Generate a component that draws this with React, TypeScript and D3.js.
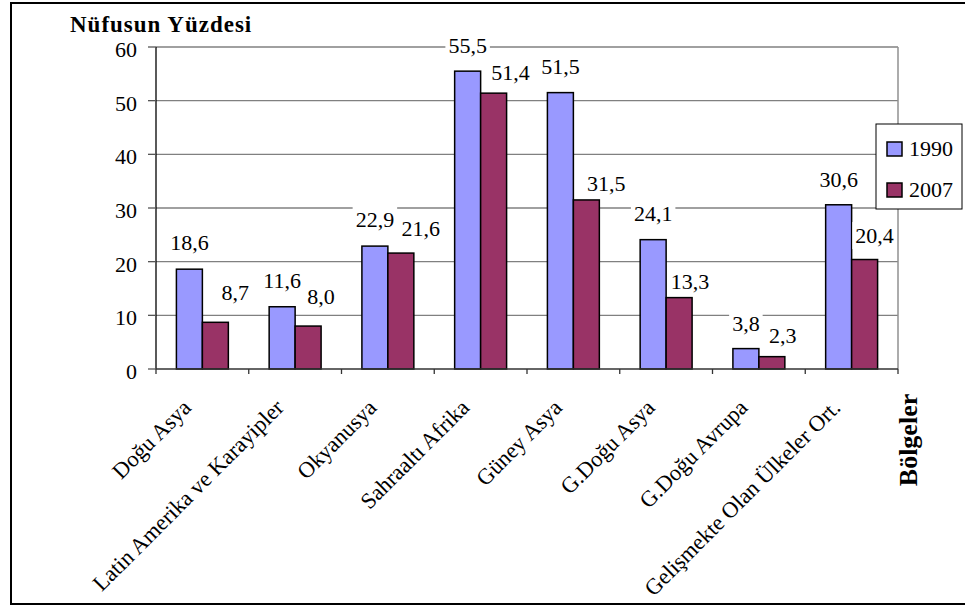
import React, { useEffect, useRef } from "react";
import * as d3 from "d3";

const categories = [
  "Doğu Asya",
  "Latin Amerika ve Karayipler",
  "Okyanusya",
  "Sahraaltı Afrika",
  "Güney Asya",
  "G.Doğu Asya",
  "G.Doğu Avrupa",
  "Gelişmekte Olan Ülkeler Ort.",
];
const seriesNames = ["1990", "2007"];
const values1990 = [18.6, 11.6, 22.9, 55.5, 51.5, 24.1, 3.8, 30.6];
const values2007 = [8.7, 8.0, 21.6, 51.4, 31.5, 13.3, 2.3, 20.4];
const yTicks = [0, 10, 20, 30, 40, 50, 60];
const yTitle = "Nüfusun Yüzdesi";
const xTitle = "Bölgeler";

// layout-only label nudges (dx, dy of label centre relative to bar top centre)
const NUDGE_1990: [number, number][] = [
  [0, -27], [0, -26], [0, -27], [0, -26], [0, -26], [0, -26], [0, -25], [0, -25],
];
const NUDGE_2007: [number, number][] = [
  [20, -30], [13, -30], [20, -25], [17, -21], [20, -16.5], [11, -16], [11, -21.6], [10, -24.5],
];

const COLORS = ["#9999FF", "#993366"];
const FONT = "'Liberation Serif', 'Times New Roman', Times, serif";

export default function App() {
  const ref = useRef<SVGSVGElement>(null);

  useEffect(() => {
    const svg = d3.select(ref.current);
    svg.selectAll("*").remove();

    const left = 156, right = 898, top = 47, bottom = 369;
    const y = d3.scaleLinear().domain([0, 60]).range([bottom, top]);
    const x = d3.scaleBand<string>().domain(categories).range([left, right]).paddingInner(0.44).paddingOuter(0.22);
    const xs = d3.scaleBand<string>().domain(seriesNames).range([0, x.bandwidth()]).padding(0);

    // outer frame
    svg.append("rect").attr("x", 11).attr("y", 3).attr("width", 970).attr("height", 601)
      .attr("fill", "white").attr("stroke", "black").attr("stroke-width", 2);

    // gridlines
    svg.append("g").selectAll("line").data(yTicks.filter((t) => t > 0)).join("line")
      .attr("x1", left).attr("x2", right).attr("y1", (d) => y(d)).attr("y2", (d) => y(d))
      .attr("stroke", "#808080").attr("stroke-width", 1.3);
    // right plot border
    svg.append("line").attr("x1", right).attr("x2", right).attr("y1", top).attr("y2", bottom)
      .attr("stroke", "#909090").attr("stroke-width", 1.5);

    // bars
    const series = [values1990, values2007];
    series.forEach((vals, si) => {
      svg.append("g").selectAll("rect").data(vals).join("rect")
        .attr("x", (_d, i) => (x(categories[i]) as number) + (xs(seriesNames[si]) as number))
        .attr("y", (d) => y(d))
        .attr("width", xs.bandwidth())
        .attr("height", (d) => y(0) - y(d))
        .attr("fill", COLORS[si]).attr("stroke", "black").attr("stroke-width", 1.5);
    });

    // y axis
    const ya = svg.append("g");
    ya.append("line").attr("x1", left).attr("x2", left).attr("y1", top).attr("y2", bottom)
      .attr("stroke", "black").attr("stroke-width", 1.3);
    ya.selectAll("line.t").data(yTicks).join("line").attr("class", "t")
      .attr("x1", left - 8).attr("x2", left).attr("y1", (d) => y(d)).attr("y2", (d) => y(d))
      .attr("stroke", "#555").attr("stroke-width", 1.3);
    ya.selectAll("text").data(yTicks).join("text")
      .attr("x", 137).attr("y", (d) => y(d) + 10)
      .attr("text-anchor", "end").attr("font-family", FONT).attr("font-size", 22)
      .text((d) => String(d));

    // x axis
    const xa = svg.append("g");
    xa.append("line").attr("x1", left).attr("x2", right).attr("y1", bottom).attr("y2", bottom)
      .attr("stroke", "#333").attr("stroke-width", 1.3);
    const boundaries = categories.map((c) => (x(c) as number) - (x.step() * x.paddingInner()) / 2).concat([right]);
    xa.selectAll("line.t").data(boundaries).join("line").attr("class", "t")
      .attr("x1", (d) => d).attr("x2", (d) => d).attr("y1", bottom).attr("y2", bottom + 5)
      .attr("stroke", "#333").attr("stroke-width", 1.3);
    xa.selectAll("text").data(categories).join("text")
      .attr("transform", (d) => `translate(${(x(d) as number) + x.bandwidth() / 2 - 10},${bottom + 40}) rotate(-45)`)
      .attr("text-anchor", "end").attr("font-family", FONT).attr("font-size", 22.5)
      .text((d) => d);

    // data labels
    const fmt = (v: number) => v.toFixed(1).replace(".", ",");
    const labelData: { v: number; cx: number; cy: number }[] = [];
    series.forEach((vals, si) => {
      const nudge = si === 0 ? NUDGE_1990 : NUDGE_2007;
      vals.forEach((v, i) => {
        const bx = (x(categories[i]) as number) + (xs(seriesNames[si]) as number) + xs.bandwidth() / 2;
        labelData.push({ v, cx: bx + nudge[i][0], cy: y(v) + nudge[i][1] });
      });
    });
    const lg = svg.append("g");
    labelData.forEach((l) => {
      const g = lg.append("g");
      const r = g.append("rect").attr("fill", "white");
      const t = g.append("text").attr("x", l.cx).attr("y", l.cy).attr("dy", "0.35em")
        .attr("text-anchor", "middle").attr("font-family", FONT).attr("font-size", 22)
        .text(fmt(l.v));
      const bb = (t.node() as SVGTextElement).getBBox();
      r.attr("x", bb.x - 3).attr("y", l.cy - 13).attr("width", bb.width + 6).attr("height", 27);
    });

    // titles
    svg.append("text").attr("x", 70).attr("y", 32).attr("font-family", FONT)
      .attr("font-size", 23).attr("font-weight", "bold").attr("letter-spacing", 1).text(yTitle);
    svg.append("text").attr("transform", `translate(917,440) rotate(-90)`).attr("text-anchor", "middle")
      .attr("font-family", FONT).attr("font-size", 26).attr("font-weight", "bold").text(xTitle);

    // legend
    const leg = svg.append("g");
    leg.append("rect").attr("x", 876).attr("y", 124).attr("width", 86).attr("height", 85)
      .attr("fill", "white").attr("stroke", "black").attr("stroke-width", 1);
    seriesNames.forEach((s, i) => {
      const yy = 142 + i * 41;
      leg.append("rect").attr("x", 887).attr("y", yy).attr("width", 15).attr("height", 14)
        .attr("fill", COLORS[i]).attr("stroke", "black").attr("stroke-width", 1.5);
      leg.append("text").attr("x", 909).attr("y", yy + 14).attr("font-family", FONT)
        .attr("font-size", 22).text(s);
    });
  }, []);

  return (
    <svg ref={ref} width={965} height={606}
      style={{ position: "absolute", left: 0, top: 0, background: "white" }} />
  );
}
